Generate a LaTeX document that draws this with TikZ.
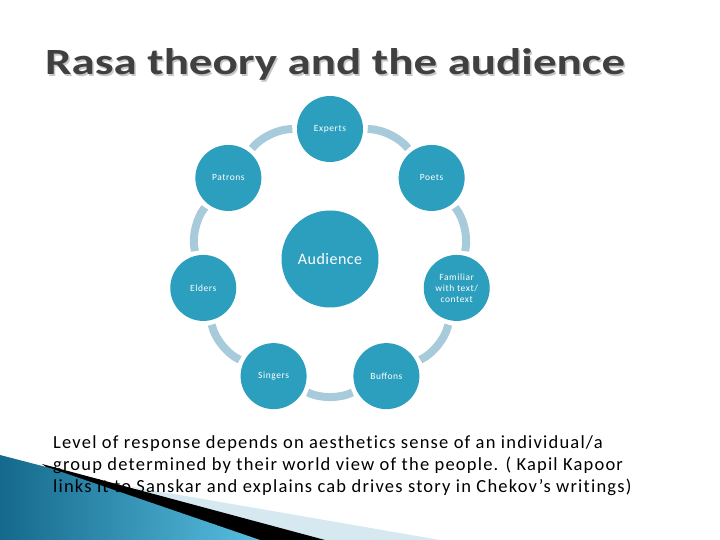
\documentclass[tikz,border=0pt]{standalone}
\usepackage{fontspec}
\setmainfont{Carlito}
\newfontfamily\titlefont[FakeStretch=1.27]{Carlito}
\definecolor{bubble}{RGB}{44,158,190}
\definecolor{ringblue}{RGB}{168,203,219}
\definecolor{titlegrey}{RGB}{64,64,64}
\definecolor{palecyan}{RGB}{214,233,240}
\definecolor{deepteal}{RGB}{20,105,140}
\definecolor{skyteal}{RGB}{88,190,224}

\begin{document}
\begin{tikzpicture}[x=1pt,y=1pt,every node/.style={inner sep=0pt}]
\tikzstyle{bub}=[circle,fill=bubble,text=white,minimum size=66pt,align=center,font=\fontsize{9.5}{11}\selectfont\addfontfeature{LetterSpace=6}]
\tikzstyle{link}=[draw,ringblue,line width=8pt,bend left=25.7,looseness=0.9,shorten <=4.5pt,shorten >=4.5pt]
\useasboundingbox (0,0) rectangle (720,540);

% corner decoration
\fill[palecyan] (128,54) -- (440,0) -- (300,0) -- cycle;
\fill[black] (42,76) -- (325,0) -- (250,0) -- (50,70) -- cycle;
\shade[left color=deepteal,right color=skyteal] (0,85) -- (50,72) -- (260,0) -- (0,0) -- cycle;

% title
\node[anchor=base west,text=black!22,font=\titlefont\fontsize{37}{40}\selectfont\bfseries](titleshadow) at (46.5,463.5){Rasa theory and the audience};
\node[anchor=base west,text=titlegrey,font=\titlefont\fontsize{37}{40}\selectfont\bfseries](title) at (45,465){Rasa theory and the audience};

% cycle
\node[bub,minimum size=97pt,font=\fontsize{16}{18}\selectfont\addfontfeature{LetterSpace=3}](aud) at (330,281){Audience};
\node[bub](experts) at ([shift={(90:130)}]aud){Experts};
\node[bub](poets) at ([shift={(38.57:130)}]aud){Poets};
\node[bub](familiar) at ([shift={(-12.86:130)}]aud){Familiar\\with text/\\context};
\node[bub](buffons) at ([shift={(-64.29:130)}]aud){Buffons};
\node[bub](singers) at ([shift={(-115.71:130)}]aud){Singers};
\node[bub](elders) at ([shift={(192.86:130)}]aud){Elders};
\node[bub](patrons) at ([shift={(141.43:130)}]aud){Patrons};

\path[link](experts) to (poets);
\path[link](poets) to (familiar);
\path[link](familiar) to (buffons);
\path[link](buffons) to (singers);
\path[link](singers) to (elders);
\path[link](elders) to (patrons);
\path[link](patrons) to (experts);

% note
\node[anchor=north west,align=left,font=\fontsize{18.5}{22}\selectfont\addfontfeature{LetterSpace=6.5,Ligatures=NoCommon}](note) at (53,105){Level of response depends on aesthetics sense of an individual/a\\group determined by their world view of the people. ( Kapil Kapoor\\links it to Sanskar and explains cab drives story in Chekov’s writings)};
\end{tikzpicture}
\end{document}
